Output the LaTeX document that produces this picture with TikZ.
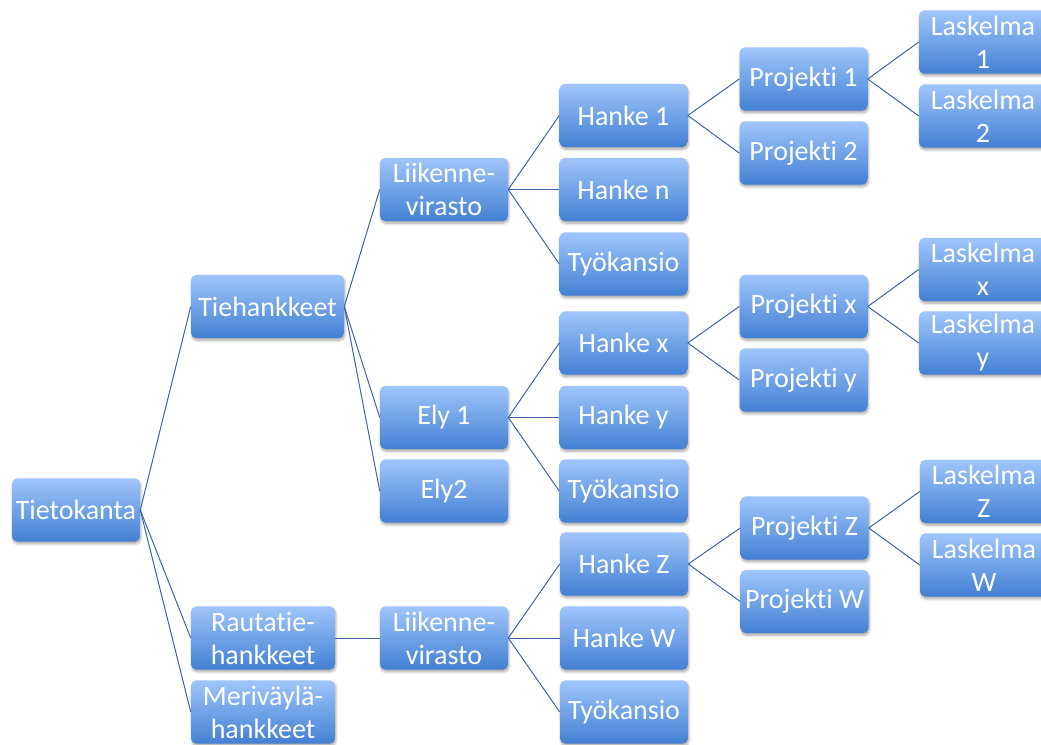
\documentclass[tikz,border=0pt]{standalone}
\usepackage{fontspec}
\setmainfont{Carlito}[Ligatures=NoCommon]
\usetikzlibrary{shadows.blur}
\definecolor{boxtop}{RGB}{160,197,251}
\definecolor{boxbot}{RGB}{66,128,211}
\definecolor{linkc}{RGB}{62,102,165}
\tikzset{
  box/.style={rounded corners=4pt, top color=boxtop, bottom color=boxbot, draw=none,
    minimum width=96pt, minimum height=47.5pt, inner sep=1pt, text=white, align=center,
    font=\fontsize{21}{24.75}\selectfont,
    blur shadow={shadow blur steps=6, shadow xshift=0.6pt, shadow yshift=-1.6pt, shadow opacity=35, shadow blur extra rounding=1pt}},
  wide/.style={minimum width=114.75pt},
  mid/.style={minimum width=108pt},
  link/.style={draw=linkc, line width=0.75pt}
}
\begin{document}
\begin{tikzpicture}[x=0.75pt,y=-0.75pt]
\useasboundingbox (0,0) rectangle (1041,745);
% level 0
\node[box] (tk) at (76,510) {Tietokanta};
% level 1
\node[box,wide] (tie) at (267.5,306.5) {Tiehankkeet};
\node[box,mid] (rau) at (263,638) {Rautatie-\\hankkeet};
\node[box,mid] (mer) at (263,712) {Meriväylä-\\hankkeet};
% level 2
\node[box] (lv1) at (444,189.5) {Liikenne-\\virasto};
\node[box] (ely1) at (444,417.5) {Ely 1};
\node[box] (ely2) at (444,491) {Ely2};
\node[box] (lv2) at (444,638) {Liikenne-\\virasto};
% level 3
\node[box] (h1) at (623.5,115.5) {Hanke 1};
\node[box] (hn) at (623.5,189.5) {Hanke n};
\node[box] (tk1) at (623.5,264) {Työkansio};
\node[box] (hx) at (623.5,343) {Hanke x};
\node[box] (hy) at (623.5,417.5) {Hanke y};
\node[box] (tk2) at (623.5,491) {Työkansio};
\node[box] (hz) at (624,564) {Hanke Z};
\node[box] (hw) at (624,638) {Hanke W};
\node[box] (tk3) at (624,712) {Työkansio};
% level 4
\node[box] (p1) at (803.5,79) {Projekti 1};
\node[box] (p2) at (803.5,153) {Projekti 2};
\node[box] (px) at (803.5,306.5) {Projekti x};
\node[box] (py) at (803.5,380) {Projekti y};
\node[box] (pz) at (804.5,528) {Projekti Z};
\node[box] (pw) at (804.5,601.5) {Projekti W};
% level 5
\node[box] (l1) at (983,42) {Laskelma\\1};
\node[box] (l2) at (983,116) {Laskelma\\2};
\node[box] (lx) at (983,269.5) {Laskelma\\x};
\node[box] (ly) at (983,343) {Laskelma\\y};
\node[box] (lz) at (984,491.5) {Laskelma\\Z};
\node[box] (lw) at (984,565) {Laskelma\\W};
% connectors
\foreach \a/\b in {tk/tie,tk/rau,tk/mer,tie/lv1,tie/ely1,tie/ely2,rau/lv2,
  lv1/h1,lv1/hn,lv1/tk1,ely1/hx,ely1/hy,ely1/tk2,lv2/hz,lv2/hw,lv2/tk3,
  h1/p1,h1/p2,hx/px,hx/py,hz/pz,hz/pw,p1/l1,p1/l2,px/lx,px/ly,pz/lz,pz/lw}
  \draw[link] (\a.east) -- (\b.west);
\end{tikzpicture}
\end{document}
